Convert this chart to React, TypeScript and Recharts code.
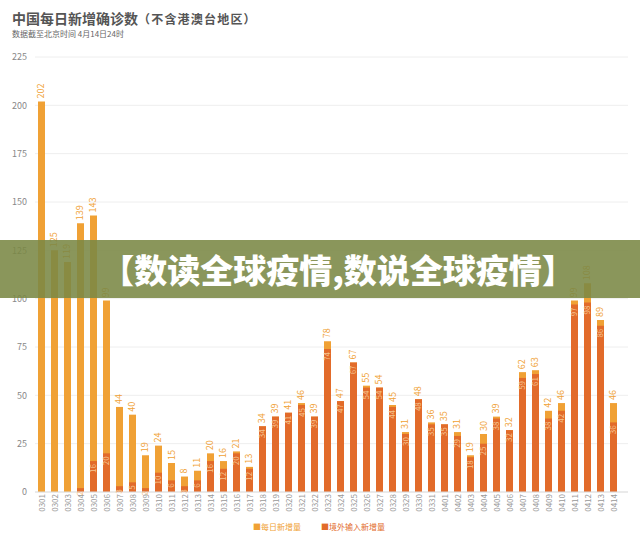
import { BarChart, Bar, XAxis, YAxis, CartesianGrid, LabelList } from "recharts";

const dates = [
  "0301", "0302", "0303", "0304", "0305", "0306", "0307", "0308", "0309", "0310",
  "0311", "0312", "0313", "0314", "0315", "0316", "0317", "0318", "0319", "0320",
  "0321", "0322", "0323", "0324", "0325", "0326", "0327", "0328", "0329", "0330",
  "0331", "0401", "0402", "0403", "0404", "0405", "0406", "0407", "0408", "0409",
  "0410", "0411", "0412", "0413", "0414",
];
const dailyNew = [
  202, 125, 119, 139, 143, 99, 44, 40, 19, 24,
  15, 8, 11, 20, 16, 21, 13, 34, 39, 41,
  46, 39, 78, 47, 67, 55, 54, 45, 31, 48,
  36, 35, 31, 19, 30, 39, 32, 62, 63, 42,
  46, 99, 108, 89, 46,
];
const imported = [
  0, 0, 0, 2, 16, 20, 3, 5, 2, 10,
  6, 3, 6, 16, 12, 20, 12, 34, 39, 41,
  45, 39, 74, 47, 67, 54, 54, 44, 30, 48,
  35, 35, 29, 18, 25, 38, 32, 59, 61, 38,
  42, 97, 98, 86, 36,
];
const yTicks = [0, 25, 50, 75, 100, 125, 150, 175, 200, 225];

const data = dates.map((d, i) => ({ date: d, total: dailyNew[i], imported: imported[i] }));

const LIGHT = "#f0a135";
const DARK = "#e26b2a";
const FONT = "'Noto Sans CJK SC', 'Noto Sans', sans-serif";

const XTick = ({ x, y, payload }: any) => {
  const ty = y - 6;
  return (
    <text
      x={x}
      y={ty}
      transform={`rotate(-90, ${x}, ${ty})`}
      dy={3}
      textAnchor="end"
      fontSize={8}
      fill="#999"
      fontFamily={FONT}
    >
      {payload.value}
    </text>
  );
};

const TopLabel = (props: any) => {
  const { x, y, width, value } = props;
  const cx = x + width / 2;
  const ty = y - 3;
  return (
    <text x={cx} y={ty} transform={`rotate(-90, ${cx}, ${ty})`} dy={3} textAnchor="start" fontSize={9} fill={LIGHT} fontFamily={FONT}>
      {value}
    </text>
  );
};

const InnerLabel = (props: any) => {
  const { x, y, width, value } = props;
  if (!value) return null;
  const cx = x + width / 2;
  const ty = y + 3;
  return (
    <text x={cx} y={ty} transform={`rotate(-90, ${cx}, ${ty})`} dy={3} textAnchor="end" fontSize={8} fill="#f6c48f" fontFamily={FONT}>
      {value}
    </text>
  );
};

export default function App() {
  return (
    <div style={{ position: "absolute", left: 0, top: 0, width: 640, height: 544, background: "#fff", fontFamily: FONT, overflow: "hidden" }}>
      <div style={{ position: "absolute", left: 12, top: 7, color: "#555", whiteSpace: "nowrap", lineHeight: "20px" }}>
        <span style={{ fontSize: 14, fontWeight: 700 }}>中国每日新增确诊数</span>
        <span style={{ fontSize: 12, fontWeight: 600, letterSpacing: 1.2 }}>（不含港澳台地区）</span>
      </div>
      <div style={{ position: "absolute", left: 12, top: 29, fontSize: 8, color: "#666", whiteSpace: "nowrap", lineHeight: "10px" }}>
        数据截至北京时间 4月14日24时
      </div>
      <BarChart
        width={640}
        height={544}
        data={data}
        margin={{ top: 57, right: 12, left: 0, bottom: 12 }}
        barSize={7}
        barGap={-7}
      >
        <CartesianGrid vertical={false} stroke="#eeeeee" />
        <YAxis
          domain={[0, 225]}
          ticks={yTicks}
          width={35}
          axisLine={false}
          tickLine={false}
          tick={{ fontSize: 9, fill: "#888", fontFamily: FONT }}
          interval={0}
        />
        <XAxis
          dataKey="date"
          height={40}
          interval={0}
          tickLine={false}
          axisLine={{ stroke: "#dddddd" }}
          tick={<XTick />}
          padding={{ left: 0, right: 8 }}
        />
        <Bar dataKey="total" fill={LIGHT} isAnimationActive={false}>
          <LabelList dataKey="total" content={<TopLabel />} />
        </Bar>
        <Bar dataKey="imported" fill={DARK} isAnimationActive={false}>
          <LabelList dataKey="imported" content={<InnerLabel />} />
        </Bar>
      </BarChart>
      <div style={{ position: "absolute", left: 253, top: 521, fontSize: 8, whiteSpace: "nowrap", display: "flex", gap: 20, lineHeight: "12px" }}>
        <span style={{ color: LIGHT }}>■每日新增量</span>
        <span style={{ color: DARK }}>■境外输入新增量</span>
      </div>
      <div
        style={{
          position: "absolute",
          left: 0,
          top: 240,
          width: 640,
          height: 58,
          background: "rgba(122,136,68,0.88)",
          display: "flex",
          alignItems: "center",
          justifyContent: "center",
          color: "#fff",
          fontSize: 33,
          fontWeight: 900,
          whiteSpace: "nowrap",
          paddingLeft: 36,
          boxSizing: "border-box",
        }}
      >
        【数读全球疫情,数说全球疫情】
      </div>
    </div>
  );
}
